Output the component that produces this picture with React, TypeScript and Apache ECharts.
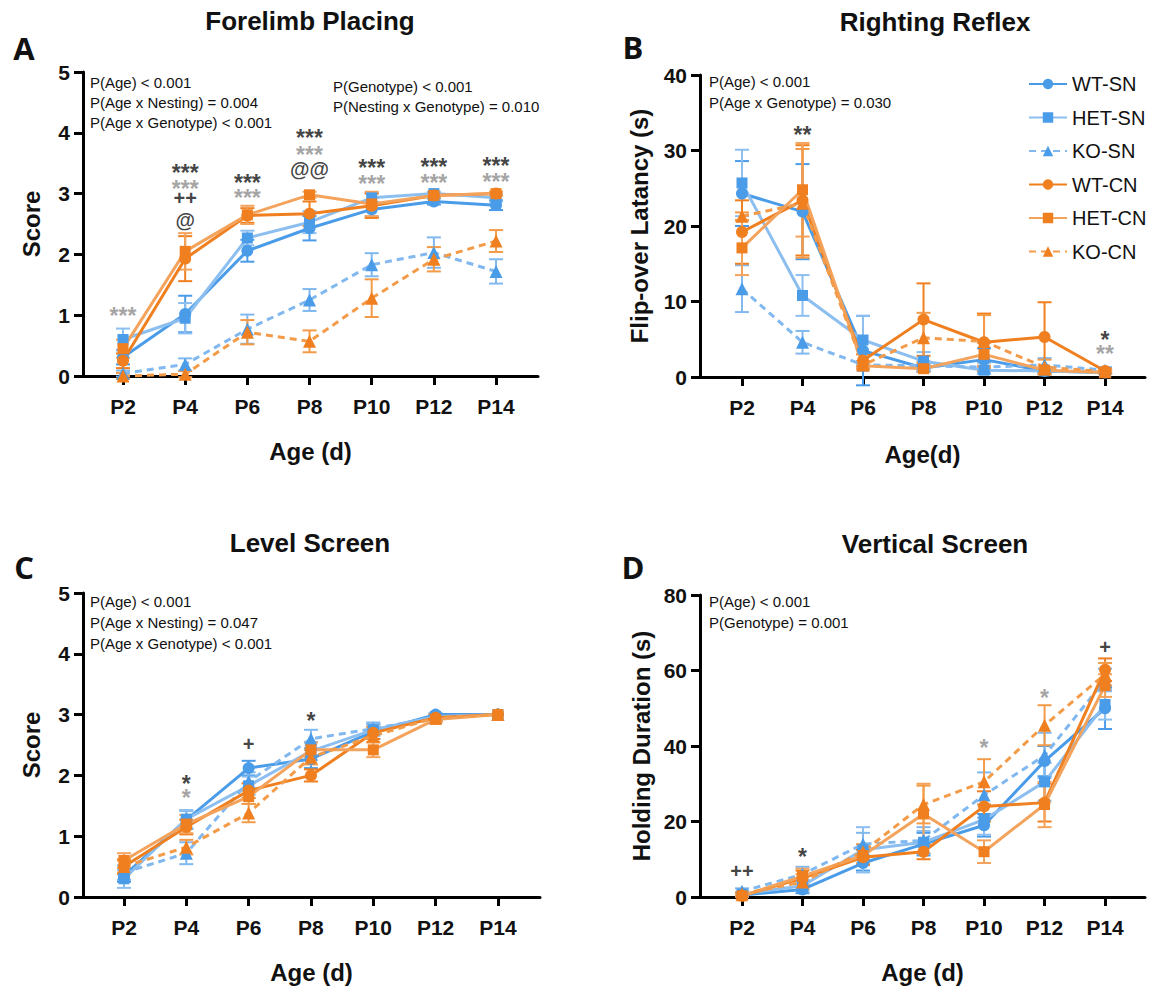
import React, { useEffect, useRef } from "react";
import * as echarts from "echarts";

// ---------- data ----------
const ages = [2, 4, 6, 8, 10, 12, 14];
const ageTicks = [2, 4, 6, 8, 10, 12, 14];
const groups = ["WT-SN", "HET-SN", "KO-SN", "WT-CN", "HET-CN", "KO-CN"];

// Panel A – Forelimb Placing (score)
const wtSnA = [0.31, 1.02, 2.06, 2.43, 2.74, 2.87, 2.81];
const hetSnA = [0.6, 0.95, 2.27, 2.53, 2.93, 3.0, 2.93];
const koSnA = [0.04, 0.19, 0.77, 1.25, 1.83, 2.03, 1.72];
const wtCnA = [0.25, 1.93, 2.64, 2.67, 2.8, 2.97, 3.0];
const hetCnA = [0.45, 2.05, 2.65, 2.98, 2.83, 2.97, 3.0];
const koCnA = [0.0, 0.03, 0.72, 0.57, 1.28, 1.92, 2.22];
const wtSnAErr = [0.12, 0.3, 0.18, 0.2, 0.12, 0.05, 0.08];
const hetSnAErr = [0.18, 0.25, 0.12, 0.18, 0.08, 0.03, 0.06];
const koSnAErr = [0.05, 0.1, 0.24, 0.18, 0.19, 0.25, 0.2];
const wtCnAErr = [0.12, 0.37, 0.12, 0.2, 0.2, 0.03, 0.03];
const hetCnAErr = [0.15, 0.3, 0.15, 0.05, 0.2, 0.03, 0.03];
const koCnAErr = [0.05, 0.05, 0.2, 0.18, 0.31, 0.2, 0.18];

// Panel B – Righting Reflex (s)
const wtSnB = [24.3, 21.9, 3.5, 1.2, 2.3, 0.8, 0.6];
const hetSnB = [25.7, 10.8, 4.9, 2.1, 0.9, 0.8, 0.6];
const koSnB = [11.7, 4.6, 1.6, 1.5, 1.3, 1.6, 0.9];
const wtCnB = [19.2, 23.4, 2.2, 7.6, 4.6, 5.3, 0.8];
const hetCnB = [17.1, 24.8, 1.5, 1.1, 3.0, 0.9, 0.6];
const koCnB = [21.3, 23.0, 1.6, 5.2, 4.7, 1.3, 0.7];
const wtSnBErr = [4.3, 6.3, 4.6, 0.5, 1.5, 0.4, 0.2];
const hetSnBErr = [4.4, 2.7, 3.2, 1.2, 0.5, 0.4, 0.2];
const koSnBErr = [3.1, 1.5, 0.5, 0.6, 0.6, 0.9, 0.4];
const wtCnBErr = [4.2, 7.3, 0.8, 4.8, 3.8, 4.6, 0.3];
const hetCnBErr = [3.6, 6.2, 0.5, 0.4, 1.5, 0.4, 0.2];
const koCnBErr = [0.5, 7.2, 0.5, 3.3, 3.5, 1.0, 0.3];

// Panel C – Level Screen (score)
const wtSnC = [0.35, 1.27, 2.12, 2.27, 2.72, 3.0, 3.0];
const hetSnC = [0.3, 1.28, 1.83, 2.4, 2.75, 2.97, 3.0];
const koSnC = [0.4, 0.72, 1.9, 2.6, 2.77, 2.95, 3.0];
const wtCnC = [0.5, 1.15, 1.75, 2.0, 2.7, 2.95, 3.0];
const hetCnC = [0.6, 1.2, 1.65, 2.42, 2.42, 2.92, 3.0];
const koCnC = [0.5, 0.82, 1.38, 2.3, 2.65, 2.95, 3.0];
const wtSnCErr = [0.1, 0.15, 0.12, 0.15, 0.12, 0.02, 0];
const hetSnCErr = [0.15, 0.15, 0.15, 0.15, 0.1, 0.03, 0];
const koSnCErr = [0.12, 0.18, 0.15, 0.15, 0.1, 0.05, 0];
const wtCnCErr = [0.12, 0.12, 0.12, 0.1, 0.1, 0.05, 0];
const hetCnCErr = [0.12, 0.15, 0.12, 0.12, 0.12, 0.05, 0];
const koCnCErr = [0.1, 0.12, 0.15, 0.12, 0.1, 0.05, 0];

// Panel D – Vertical Screen (s)
const wtSnD = [0.5, 2.0, 9.0, 14.0, 19.0, 36.0, 50.0];
const hetSnD = [0.8, 3.0, 12.5, 14.5, 20.5, 30.5, 51.0];
const koSnD = [1.5, 6.0, 14.0, 15.0, 27.0, 37.5, 57.5];
const wtCnD = [0.3, 5.0, 10.5, 12.0, 24.0, 25.0, 60.2];
const hetCnD = [0.3, 5.5, 11.0, 22.0, 12.0, 24.5, 56.0];
const koCnD = [0.8, 4.0, 12.0, 24.5, 30.5, 45.5, 59.0];
const wtSnDErr = [0.3, 1, 2, 3, 3, 4, 5.5];
const hetSnDErr = [0.5, 1.5, 6, 3, 4, 5, 4];
const koSnDErr = [0.8, 2, 3, 3.5, 6, 6, 3];
const wtCnDErr = [0.3, 2, 2, 2, 4, 5, 3];
const hetCnDErr = [0.3, 2, 2, 8, 3, 6, 3];
const koCnDErr = [0.5, 2, 2, 5, 6, 5.3, 3];

// significance marks: [age, y, text, tone]
const marksA = [
  [2, 1.08, "***", "g"],
  [4, 3.44, "***", "k"], [4, 3.18, "***", "g"], [4, 2.93, "++", "k"], [4, 2.57, "@", "k"],
  [6, 3.27, "***", "k"], [6, 3.02, "***", "g"],
  [8, 4.01, "***", "k"], [8, 3.74, "***", "g"], [8, 3.4, "@@", "k"],
  [10, 3.52, "***", "k"], [10, 3.26, "***", "g"],
  [12, 3.54, "***", "k"], [12, 3.28, "***", "g"],
  [14, 3.56, "***", "k"], [14, 3.29, "***", "g"],
];
const marksB = [
  [4, 32.9, "**", "k"], [14, 5.7, "*", "k"], [14, 3.8, "**", "g"],
];
const marksC = [
  [4, 1.95, "*", "k"], [4, 1.72, "*", "g"], [6, 2.51, "+", "k"], [8, 3.0, "*", "k"],
];
const marksD = [
  [2, 6.8, "++", "k"], [4, 12.1, "*", "k"], [10, 41, "*", "g"], [12, 54.4, "*", "g"], [14, 66.3, "+", "k"],
];

const titles = ["Forelimb Placing", "Righting Reflex", "Level Screen", "Vertical Screen"];
const letters = ["A", "B", "C", "D"];
const yNames = ["Score", "Flip-over Latancy (s)", "Score", "Holding Duration (s)"];
const xNames = ["Age (d)", "Age(d)", "Age (d)", "Age (d)"];
const yMax = [5, 40, 5, 80];
const yStep = [1, 10, 1, 20];
const statsA1 = ["P(Age) < 0.001", "P(Age x Nesting) = 0.004", "P(Age x Genotype) < 0.001"];
const statsA2 = ["P(Genotype) < 0.001", "P(Nesting x Genotype) = 0.010"];
const statsB = ["P(Age) < 0.001", "P(Age x Genotype) = 0.030"];
const statsC = ["P(Age) < 0.001", "P(Age x Nesting) = 0.047", "P(Age x Genotype) < 0.001"];
const statsD = ["P(Age) < 0.001", "P(Genotype) = 0.001"];

// ---------- styles ----------
const FONT = "Liberation Sans, Arial, sans-serif";
const BLUE = "#4a9ce9";
const ORANGE = "#f07f1f";
const groupStyle = [
  { line: "#4a9ce9", mark: BLUE, dash: "solid", symbol: "circle", size: 12 },
  { line: "#8cbff0", mark: BLUE, dash: "solid", symbol: "rect", size: 11 },
  { line: "#80b8ef", mark: BLUE, dash: [7, 5], symbol: "triangle", size: 13 },
  { line: "#f07f1f", mark: ORANGE, dash: "solid", symbol: "circle", size: 12 },
  { line: "#f4a35c", mark: ORANGE, dash: "solid", symbol: "rect", size: 11 },
  { line: "#f39b48", mark: ORANGE, dash: [7, 5], symbol: "triangle", size: 13 },
];
const grids = [
  { left: 83, top: 72, width: 455, height: 304 },
  { left: 700, top: 75, width: 445, height: 302 },
  { left: 83, top: 593, width: 457, height: 304 },
  { left: 700, top: 595, width: 445, height: 302 },
];
const xRange = [
  [0.713, 15.35],
  [0.612, 15.32],
  [0.685, 15.35],
  [0.612, 15.32],
];
const yNameGap = [40, 49, 40, 47];
const xNameGap = [63, 65, 63, 63];

export default function App() {
  const ref = useRef<HTMLDivElement>(null);
  useEffect(() => {
    document.body.style.margin = "0";
    if (!ref.current) return;
    const chart = echarts.init(ref.current, undefined, { renderer: "svg" });

    const means = [
      [wtSnA, hetSnA, koSnA, wtCnA, hetCnA, koCnA],
      [wtSnB, hetSnB, koSnB, wtCnB, hetCnB, koCnB],
      [wtSnC, hetSnC, koSnC, wtCnC, hetCnC, koCnC],
      [wtSnD, hetSnD, koSnD, wtCnD, hetCnD, koCnD],
    ];
    const errs = [
      [wtSnAErr, hetSnAErr, koSnAErr, wtCnAErr, hetCnAErr, koCnAErr],
      [wtSnBErr, hetSnBErr, koSnBErr, wtCnBErr, hetCnBErr, koCnBErr],
      [wtSnCErr, hetSnCErr, koSnCErr, wtCnCErr, hetCnCErr, koCnCErr],
      [wtSnDErr, hetSnDErr, koSnDErr, wtCnDErr, hetCnDErr, koCnDErr],
    ];
    const marks = [marksA, marksB, marksC, marksD];

    const series: any[] = [];
    for (let p = 0; p < 4; p++) {
      for (let g = 0; g < 6; g++) {
        const st = groupStyle[g];
        const color = st.line;
        series.push({
          type: "custom",
          name: groups[g] + "-err",
          xAxisIndex: p,
          yAxisIndex: p,
          clip: false,
          z: 2,
          silent: true,
          encode: { x: 0, y: 1 },
          data: ages.map((a, i) => [a, means[p][g][i], errs[p][g][i]]),
          renderItem: (params: any, api: any) => {
            const x = api.value(0);
            const m = api.value(1);
            const s = api.value(2);
            if (!s) return { type: "group", children: [] };
            const top = api.coord([x, m + s]);
            const bot = api.coord([x, m - s]);
            const cw = 7;
            const style = { stroke: color, lineWidth: 2 };
            return {
              type: "group",
              children: [
                { type: "line", shape: { x1: top[0], y1: top[1], x2: bot[0], y2: bot[1] }, style },
                { type: "line", shape: { x1: top[0] - cw, y1: top[1], x2: top[0] + cw, y2: top[1] }, style },
                { type: "line", shape: { x1: bot[0] - cw, y1: bot[1], x2: bot[0] + cw, y2: bot[1] }, style },
              ],
            };
          },
        });
      }
      for (let g = 0; g < 6; g++) {
        const st = groupStyle[g];
        series.push({
          type: "line",
          name: groups[g],
          xAxisIndex: p,
          yAxisIndex: p,
          clip: false,
          z: 3,
          data: ages.map((a, i) => [a, means[p][g][i]]),
          symbol: st.symbol,
          symbolSize: st.size,
          lineStyle: { color: st.line, width: 3, type: st.dash },
          itemStyle: { color: st.mark },
          emphasis: { disabled: true },
        });
      }
      series.push({
        type: "scatter",
        name: "marks" + p,
        xAxisIndex: p,
        yAxisIndex: p,
        symbolSize: 0,
        z: 5,
        silent: true,
        clip: false,
        data: marks[p].map((m: any) => {
          const isStar = String(m[2]).indexOf("*") >= 0;
          return {
            value: [m[0], m[1]],
            name: m[2],
            label: {
              color: m[3] === "g" ? "#8c8c8c" : "#111111",
              fontSize: isStar ? 23 : 20,
              lineHeight: isStar ? 14 : 20,
              offset: [0, isStar ? 6 : 0],
            },
          };
        }),
        label: {
          show: true,
          position: "inside",
          formatter: (d: any) => d.name,
          fontWeight: "bold",
          fontFamily: FONT,
        },
      });
    }

    const xAxis = grids.map((_, p) => ({
      type: "value",
      gridIndex: p,
      min: xRange[p][0],
      max: xRange[p][1],
      name: xNames[p],
      nameLocation: "middle",
      nameGap: xNameGap[p],
      nameTextStyle: { fontSize: 24, fontWeight: "bold", fontFamily: FONT, color: "#111" },
      axisLine: { show: true, onZero: false, lineStyle: { color: "#000", width: 3 } },
      axisTick: { show: true, length: 9, customValues: ageTicks, lineStyle: { color: "#000", width: 3 } },
      axisLabel: {
        customValues: ageTicks,
        formatter: (v: number) => "P" + v,
        fontSize: 21,
        fontWeight: "bold",
        fontFamily: FONT,
        color: "#111",
        margin: 20,
      },
      splitLine: { show: false },
    }));
    const yAxis = grids.map((_, p) => ({
      type: "value",
      gridIndex: p,
      min: 0,
      max: yMax[p],
      interval: yStep[p],
      name: yNames[p],
      nameLocation: "middle",
      nameGap: yNameGap[p],
      nameTextStyle: { fontSize: 24, fontWeight: "bold", fontFamily: FONT, color: "#111" },
      axisLine: { show: true, lineStyle: { color: "#000", width: 3 } },
      axisTick: { show: true, length: 9, lineStyle: { color: "#000", width: 3 } },
      axisLabel: { fontSize: 21, fontWeight: "bold", fontFamily: FONT, color: "#111", margin: 13 },
      splitLine: { show: false },
    }));

    const txt = (x: number, y: number, text: string, size: number, weight: string, align = "left", family = FONT) => ({
      type: "text",
      x,
      y,
      silent: true,
      style: {
        text,
        fontSize: size,
        fontWeight: weight,
        fontFamily: family,
        fill: "#111",
        align,
        verticalAlign: "middle",
        textAlign: align,
        textVerticalAlign: "middle",
      },
    });
    const graphic: any[] = [];
    const titlePos = [[310, 21], [935, 22], [310, 543], [935, 544]];
    const letterPos = [[24, 48], [633, 47], [24, 567], [633, 567]];
    for (let p = 0; p < 4; p++) {
      graphic.push(txt(titlePos[p][0], titlePos[p][1], titles[p], 26, "bold", "center"));
      graphic.push(txt(letterPos[p][0], letterPos[p][1], letters[p], 31, "bold", "center", "Open Sans, sans-serif"));
    }
    statsA1.forEach((s, i) => graphic.push(txt(90, 82 + i * 20, s, 15, "normal")));
    statsA2.forEach((s, i) => graphic.push(txt(333, 86 + i * 20, s, 15, "normal")));
    statsB.forEach((s, i) => graphic.push(txt(709, 81 + i * 21, s, 15, "normal")));
    statsC.forEach((s, i) => graphic.push(txt(90, 601 + i * 21, s, 15, "normal")));
    statsD.forEach((s, i) => graphic.push(txt(709, 601 + i * 21, s, 15, "normal")));

    chart.setOption({
      animation: false,
      backgroundColor: "#ffffff",
      grid: grids.map((g) => ({ ...g, containLabel: false, outerBoundsMode: "none" })),
      xAxis,
      yAxis,
      legend: {
        data: groups,
        orient: "vertical",
        left: 1023,
        top: 69,
        itemWidth: 38,
        itemHeight: 13,
        itemGap: 13.5,
        selectedMode: false,
        textStyle: { fontSize: 20, fontFamily: FONT, color: "#111" },
      },
      series,
      graphic,
    });
    return () => chart.dispose();
  }, []);
  return <div ref={ref} style={{ width: 1158, height: 988 }} />;
}
